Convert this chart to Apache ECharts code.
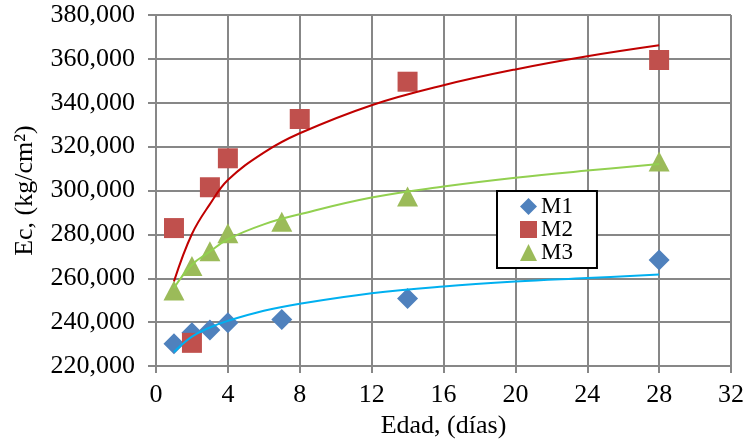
<!DOCTYPE html>
<html>
<head>
<meta charset="utf-8">
<script src="https://cdn.jsdelivr.net/npm/echarts@6/dist/echarts.min.js"></script>
<style>
html,body{margin:0;padding:0;background:#fff;}
#c{width:748px;height:444px;}
</style>
</head>
<body>
<div id="c"></div>
<script>
// Data
var ages = [1, 2, 3, 4, 7, 14, 28];
var agesM2 = [1, 2, 3, 4, 8, 14, 28];
var m1 = [230200, 235200, 236400, 239700, 241200, 250800, 268300];
var m2 = [282900, 230600, 301500, 314700, 332600, 349600, 359500];
var m3 = [254500, 265600, 272300, 280500, 285800, 297300, 313200];

// Trend lines
var trendX1 = [1, 2, 3, 4, 6, 8, 12, 16, 20, 24, 28];
var trendM1 = [226400, 233400, 237600, 240600, 245200, 248400, 253200, 256300, 258500, 260100, 261700];
var trendX2 = [1, 2, 3, 4, 6, 8, 12, 16, 20, 24, 28];
var trendM2 = [258600, 280200, 293800, 304800, 317300, 326100, 338900, 348000, 355200, 361200, 366200];
var trendX3 = [1, 2, 3, 4, 6, 8, 12, 16, 20, 24, 28];
var trendM3 = [255600, 266200, 272200, 277800, 284600, 289200, 296800, 301800, 305800, 309100, 312100];

var seriesNames = ['M1', 'M2', 'M3'];
var xTicks = {min: 0, max: 32, interval: 4};
var yTicks = {min: 220000, max: 380000, interval: 20000};

function pairs(xs, ys) { return xs.map(function (x, i) { return [x, ys[i]]; }); }

var FONT = "'Liberation Serif', 'Times New Roman', serif";
var GRID = '#878787';

var chart = echarts.init(document.getElementById('c'), null, {renderer: 'canvas'});
chart.setOption({
  animation: false,
  backgroundColor: '#ffffff',
  grid: {left: 156, right: 17, top: 15, bottom: 77, containLabel: false},
  legend: {
    orient: 'vertical',
    left: 497, top: 191,
    data: seriesNames,
    backgroundColor: '#fff',
    borderColor: '#000', borderWidth: 2,
    padding: [4, 24, 4, 23],
    itemGap: 0,
    itemWidth: 17, itemHeight: 17,
    textStyle: {fontFamily: FONT, fontSize: 23, color: '#000', padding: [0, 0, 0, -1]}
  },
  xAxis: {
    type: 'value', min: xTicks.min, max: xTicks.max, interval: xTicks.interval,
    name: 'Edad, (días)', nameLocation: 'middle', nameGap: 42,
    nameTextStyle: {fontFamily: FONT, fontSize: 26, color: '#000'},
    axisLine: {show: true, lineStyle: {color: GRID, width: 2}},
    axisTick: {show: true, inside: false, length: 7, lineStyle: {color: GRID, width: 2}},
    axisLabel: {fontFamily: FONT, fontSize: 26, color: '#000', margin: 16},
    splitLine: {show: true, lineStyle: {color: GRID, width: 2}}
  },
  yAxis: {
    type: 'value', min: yTicks.min, max: yTicks.max, interval: yTicks.interval,
    name: 'Ec, (kg/cm²)', nameLocation: 'middle', nameGap: 118, nameRotate: 90,
    nameTextStyle: {fontFamily: FONT, fontSize: 26, color: '#000'},
    axisLine: {show: true, lineStyle: {color: GRID, width: 2}},
    axisTick: {show: true, inside: false, length: 8, lineStyle: {color: GRID, width: 2}},
    axisLabel: {
      fontFamily: FONT, fontSize: 26, color: '#000', margin: 21,
      formatter: function (v) { return v.toLocaleString('en-US'); }
    },
    splitLine: {show: true, lineStyle: {color: GRID, width: 2}}
  },
  series: [
    {name: 'trend1', type: 'line', data: pairs(trendX1, trendM1), smooth: 0.4, showSymbol: false, symbol: 'none',
     lineStyle: {color: '#00B0F0', width: 2}, z: 3},
    {name: 'trend2', type: 'line', data: pairs(trendX2, trendM2), smooth: 0.4, showSymbol: false, symbol: 'none',
     lineStyle: {color: '#C00000', width: 2}, z: 3},
    {name: 'trend3', type: 'line', data: pairs(trendX3, trendM3), smooth: 0.4, showSymbol: false, symbol: 'none',
     lineStyle: {color: '#92D050', width: 2}, z: 3},
    {name: 'M1', type: 'scatter', data: pairs(ages, m1), symbol: 'diamond', symbolSize: 21,
     itemStyle: {color: '#4F81BD', opacity: 1}, z: 2},
    {name: 'M2', type: 'scatter', data: pairs(agesM2, m2), symbol: 'rect', symbolSize: 20,
     itemStyle: {color: '#C0504D', opacity: 1}, z: 2},
    {name: 'M3', type: 'scatter', data: pairs(ages, m3), symbol: 'triangle', symbolSize: [21, 20],
     itemStyle: {color: '#9BBB59', opacity: 1}, z: 2}
  ]
});
</script>
</body>
</html>
